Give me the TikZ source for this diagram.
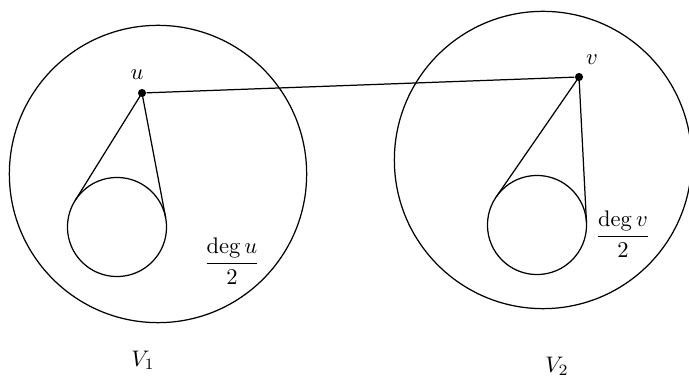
\documentclass[tikz,border=0pt]{standalone}
\usepackage{amsmath,amssymb}
\usetikzlibrary{calc}

\begin{document}
\begin{tikzpicture}[x=0.444pt,y=-0.444pt,line width=0.55pt,
    menge/.style={draw,circle,inner sep=0pt,outer sep=0pt,minimum size=132pt},
    nachbar/.style={draw,circle,inner sep=0pt,outer sep=0pt,minimum size=44pt},
    knoten/.style={fill,circle,inner sep=0pt,minimum size=3.6pt}]
        \useasboundingbox (0,0) rectangle (689,377);

        % Die beiden Teilmengen
        \node[menge] (M1) at (158,174) {};
        \node[menge] (M2) at (543,160) {};

        % Nachbarschaften
        \node[nachbar] (N1) at (117,227) {};
        \node[nachbar] (N2) at (537,225) {};

        % Knoten u und v
        \node[knoten] (u) at (142,93) {};
        \node[knoten] (v) at (579,77) {};
        \node (ulab) at (137,75) {$u$};
        \node (vlab) at (592,60) {$v$};

        % Kante u--v
        \draw (u) -- (v);

        % Tangenten an die Nachbarschaften
        \draw (tangent cs:node=N1,point={(u)},solution=1) -- (u.center)
              -- (tangent cs:node=N1,point={(u)},solution=2);
        \draw (tangent cs:node=N2,point={(v)},solution=1) -- (v.center)
              -- (tangent cs:node=N2,point={(v)},solution=2);

        % Beschriftungen
        \node (degu) at (232,261) {$\dfrac{\deg u}{2}$};
        \node (degv) at (623,234) {$\dfrac{\deg v}{2}$};
        \node (V1) at (143,360) {$V_1$};
        \node (V2) at (557,366) {$V_2$};
      \end{tikzpicture}
\end{document}
